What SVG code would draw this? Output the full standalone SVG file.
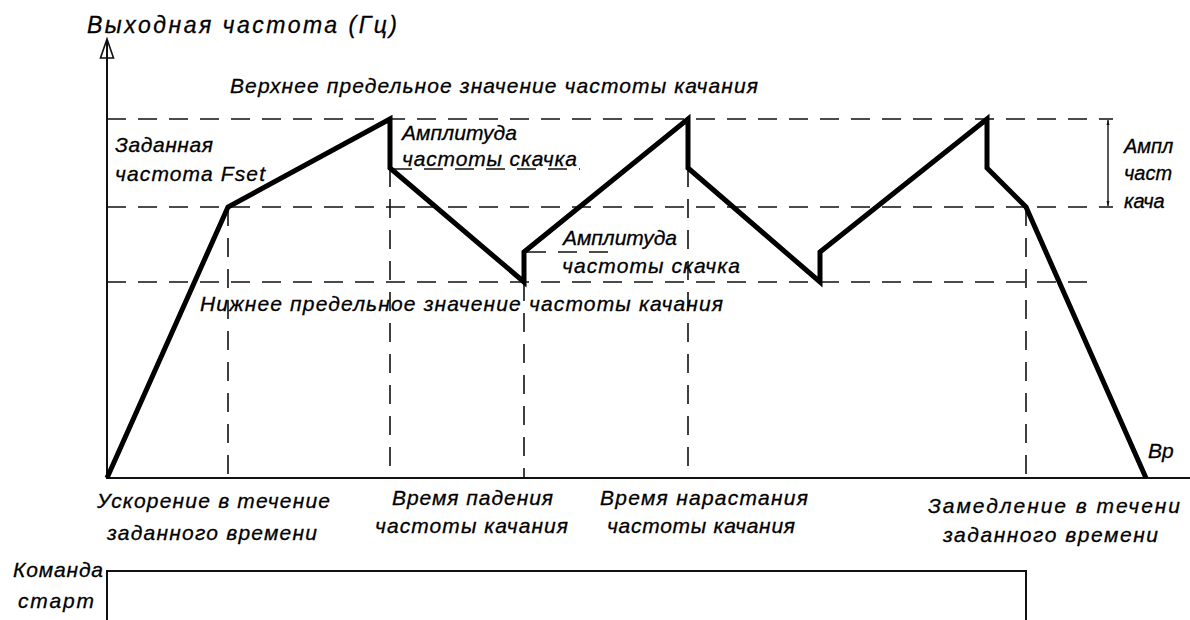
<svg xmlns="http://www.w3.org/2000/svg" width="1190" height="620" viewBox="0 0 1190 620">
<style>
text{font-family:"Liberation Sans","DejaVu Sans",sans-serif;font-style:italic;fill:#000;stroke:#000;stroke-width:0.3;font-size:21px}
.title{font-size:23px}
.small{font-size:20px}
.axis{stroke:#111;stroke-width:2;fill:none}
.dash{stroke:#111;stroke-width:1.6;stroke-dasharray:19 12;fill:none}
.curve{stroke:#000;stroke-width:5;fill:none;stroke-linejoin:miter;stroke-miterlimit:3}
.thin{stroke:#111;stroke-width:1.4;fill:none}
</style>
<defs>
<marker id="arr" viewBox="0 0 10 10" refX="10" refY="5" markerWidth="5" markerHeight="8" orient="auto-start-reverse" markerUnits="userSpaceOnUse">
<path d="M0,2 L10,5 L0,8 z" fill="#111"/>
</marker>
</defs>
<rect width="1190" height="620" fill="#fff"/>
<g id="axes">
<line class="axis" x1="107" y1="40" x2="107" y2="479"/>
<line class="axis" x1="106" y1="478" x2="1190" y2="478"/>
<polygon points="107,39 100.5,58 113.5,58" fill="none" stroke="#111" stroke-width="1.6"/>
</g>
<g id="connectors">
<line class="dash" x1="107" y1="119" x2="1113" y2="119"/>
<line class="dash" x1="107" y1="207" x2="1113" y2="207"/>
<line class="dash" x1="107" y1="282" x2="1090" y2="282"/>
<line class="dash" x1="393" y1="169" x2="580" y2="169"/>
<line class="dash" x1="527" y1="252" x2="618" y2="252"/>
<line class="dash" x1="228" y1="207" x2="228" y2="478"/>
<line class="dash" x1="390" y1="168" x2="390" y2="478"/>
<line class="dash" x1="524" y1="282" x2="524" y2="478"/>
<line class="dash" x1="688" y1="168" x2="688" y2="478"/>
<line class="dash" x1="1026" y1="207" x2="1026" y2="478"/>
<line class="thin" x1="1108" y1="120" x2="1108" y2="206" marker-start="url(#arr)" marker-end="url(#arr)"/>
<polyline class="curve" points="107,478 228,207 390,119 390,168 524,282 524,252 688,119 688,168 820,282 820,252 987,119 987,168 1026,207 1146,478"/>
<polyline class="axis" points="107,620 107,571 1026,571 1026,620"/>
</g>
<g id="title"><text class="title" x="87" y="33" textLength="310" lengthAdjust="spacing">Выходная  частота  (Гц)</text></g>
<g id="upper-limit"><text x="230" y="93" textLength="528" lengthAdjust="spacing">Верхнее  предельное  значение  частоты  качания</text></g>
<g id="fset"><text x="115" y="152" textLength="98" lengthAdjust="spacing">Заданная</text><text x="115" y="181" textLength="150" lengthAdjust="spacing">частота  Fset</text></g>
<g id="jump1"><text x="402" y="140" textLength="115" lengthAdjust="spacing">Амплитуда</text><text x="402" y="166" textLength="175" lengthAdjust="spacing">частоты  скачка</text></g>
<g id="jump2"><text x="563" y="245" textLength="114" lengthAdjust="spacing">Амплитуда</text><text x="562" y="273" textLength="178" lengthAdjust="spacing">частоты  скачка</text></g>
<g id="lower-limit"><text x="200" y="311" textLength="523" lengthAdjust="spacing">Нижнее  предельное  значение  частоты  качания</text></g>
<g id="swing-amp"><text class="small" x="1124" y="153">Ампл</text><text class="small" x="1124" y="180">част</text><text class="small" x="1124" y="208">кача</text></g>
<g id="accel"><text x="97" y="508" textLength="233" lengthAdjust="spacing">Ускорение  в  течение</text><text x="107" y="540" textLength="210" lengthAdjust="spacing">заданного  времени</text></g>
<g id="fall"><text x="392" y="505" textLength="161" lengthAdjust="spacing">Время  падения</text><text x="375" y="533" textLength="193" lengthAdjust="spacing">частоты  качания</text></g>
<g id="rise"><text x="600" y="505" textLength="208" lengthAdjust="spacing">Время  нарастания</text><text x="607" y="533" textLength="188" lengthAdjust="spacing">частоты  качания</text></g>
<g id="decel"><text x="928" y="513" textLength="252" lengthAdjust="spacing">Замедление  в  течени</text><text x="943" y="542" textLength="215" lengthAdjust="spacing">заданного  времени</text></g>
<g id="time"><text x="1148" y="458">Вр</text></g>
<g id="start"><text x="58" y="577" text-anchor="middle" textLength="90" lengthAdjust="spacing">Команда</text><text x="56" y="608" text-anchor="middle" textLength="76" lengthAdjust="spacing">старт</text></g>
</svg>
